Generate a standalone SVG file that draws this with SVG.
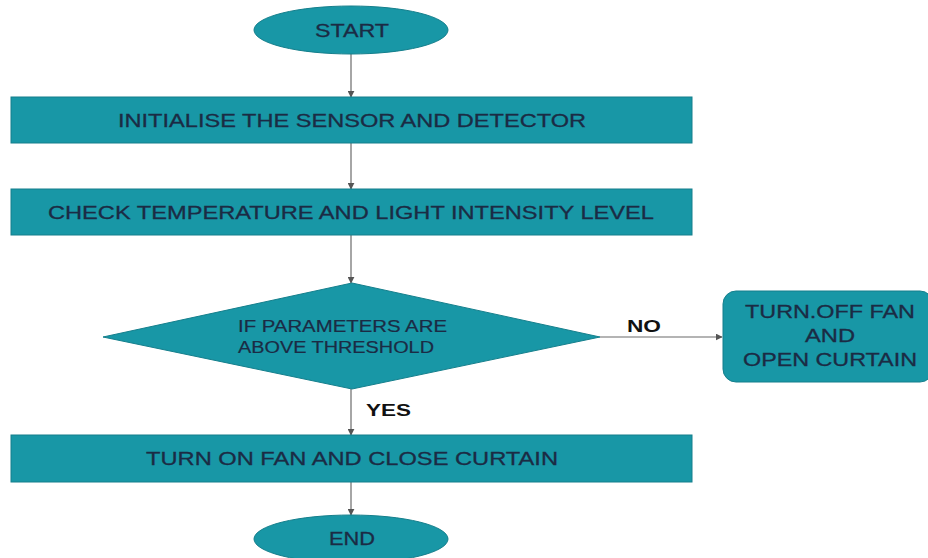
<svg xmlns="http://www.w3.org/2000/svg" width="928" height="558" viewBox="0 0 928 558">
<defs>
<style>
.n{fill:#1897a6;stroke:#157f8c;stroke-width:1}
.t{font-family:"Liberation Sans",Arial,sans-serif;fill:#1b2b44;font-size:19px;stroke:#1b2b44;stroke-width:0.3}
.s{font-family:"Liberation Sans",Arial,sans-serif;fill:#1b2b44;font-size:17px;stroke:#1b2b44;stroke-width:0.2}
.l{font-family:"Liberation Sans",Arial,sans-serif;fill:#111;font-size:17px;font-weight:bold}
.c{stroke:#6b6b6b;stroke-width:1.2;fill:none;marker-end:url(#a)}
</style>
<marker id="a" viewBox="0 0 10 10" refX="9" refY="5" markerWidth="7" markerHeight="7" orient="auto" markerUnits="userSpaceOnUse">
<path d="M0,0 L10,5 L0,10 z" fill="#555"/>
</marker>
</defs>
<rect width="928" height="558" fill="#fff"/>
<g id="connectors">
<line class="c" x1="351" y1="54" x2="351" y2="97"/>
<line class="c" x1="351" y1="143" x2="351" y2="189"/>
<line class="c" x1="351" y1="235" x2="351" y2="283"/>
<line class="c" x1="351" y1="389" x2="351" y2="435"/>
<line class="c" x1="351" y1="482" x2="351" y2="515"/>
<line class="c" x1="600" y1="337" x2="722" y2="337"/>
<text class="l" x="627" y="332" textLength="34" lengthAdjust="spacingAndGlyphs">NO</text>
<text class="l" x="366" y="416" textLength="45" lengthAdjust="spacingAndGlyphs">YES</text>
</g>
<g id="start">
<ellipse class="n" cx="351" cy="30" rx="97" ry="24"/>
<text class="t" x="352" y="37" text-anchor="middle" textLength="74" lengthAdjust="spacingAndGlyphs">START</text>
</g>
<g id="init">
<rect class="n" x="11" y="97" width="681" height="46"/>
<text class="t" x="352" y="127" text-anchor="middle" textLength="468" lengthAdjust="spacingAndGlyphs">INITIALISE THE SENSOR AND DETECTOR</text>
</g>
<g id="check">
<rect class="n" x="11" y="189" width="681" height="46"/>
<text class="t" x="351" y="219" text-anchor="middle" textLength="606" lengthAdjust="spacingAndGlyphs">CHECK TEMPERATURE AND LIGHT INTENSITY LEVEL</text>
</g>
<g id="decision">
<polygon class="n" points="352,283 600,337 352,389 103,337"/>
<text class="s" x="238" y="332" textLength="209" lengthAdjust="spacingAndGlyphs">IF PARAMETERS ARE</text>
<text class="s" x="238" y="353" textLength="196" lengthAdjust="spacingAndGlyphs">ABOVE THRESHOLD</text>
</g>
<g id="off">
<rect class="n" x="723" y="291" width="210" height="91" rx="13"/>
<text class="t" x="830" y="318" text-anchor="middle" textLength="170" lengthAdjust="spacingAndGlyphs">TURN.OFF FAN</text>
<text class="t" x="830" y="342" text-anchor="middle" textLength="50" lengthAdjust="spacingAndGlyphs">AND</text>
<text class="t" x="830" y="366" text-anchor="middle" textLength="174" lengthAdjust="spacingAndGlyphs">OPEN CURTAIN</text>
</g>
<g id="on">
<rect class="n" x="11" y="435" width="681" height="47"/>
<text class="t" x="352" y="465" text-anchor="middle" textLength="412" lengthAdjust="spacingAndGlyphs">TURN ON FAN AND CLOSE CURTAIN</text>
</g>
<g id="end">
<ellipse class="n" cx="351" cy="539" rx="97" ry="24"/>
<text class="t" x="352" y="545" text-anchor="middle" textLength="46" lengthAdjust="spacingAndGlyphs">END</text>
</g>
</svg>
